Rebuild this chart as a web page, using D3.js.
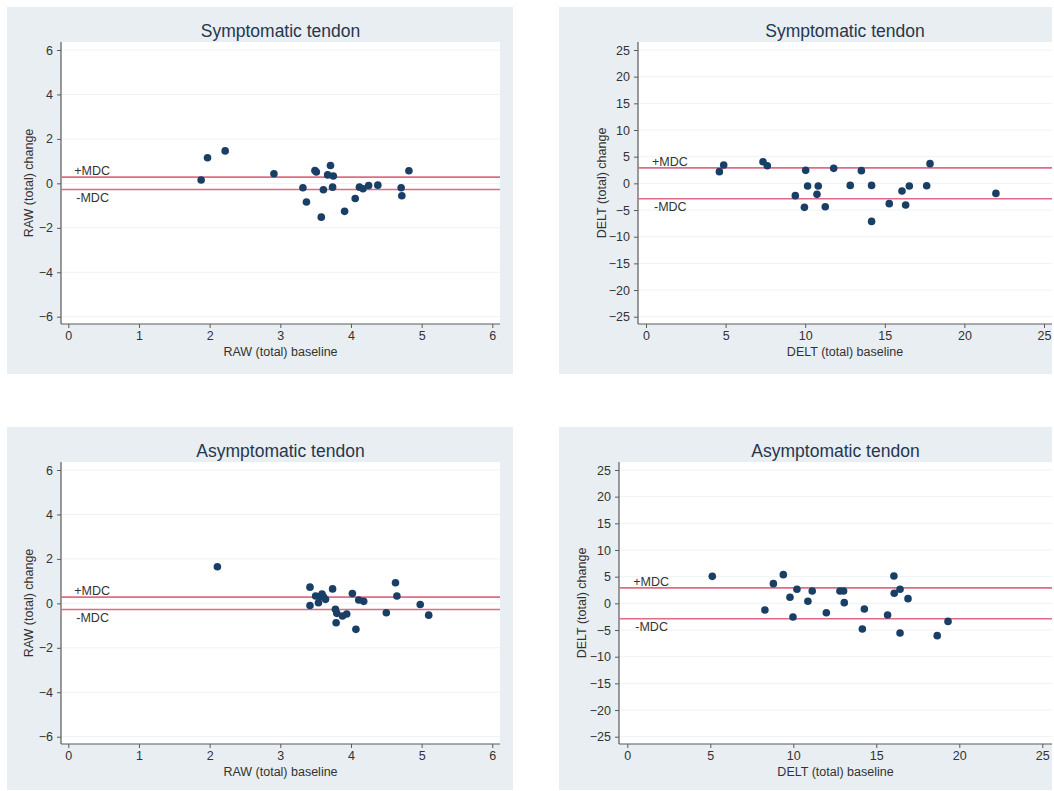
<!DOCTYPE html>
<html>
<head>
<meta charset="utf-8">
<script src="https://cdn.jsdelivr.net/npm/d3@7"></script>
<style>
  body { margin: 0; background: #ffffff; }
  svg { display: block; font-family: "Liberation Sans", Arial, sans-serif; }
</style>
</head>
<body>
<div id="chart"></div>
<script>
// RAW, symptomatic tendon
const rawSympBase = [1.88, 1.97, 2.22, 2.91, 3.32, 3.37, 3.49, 3.51, 3.58, 3.61, 3.67, 3.71, 3.75, 3.74, 3.91, 4.06, 4.12, 4.17, 4.25, 4.38, 4.71, 4.72, 4.82];
const rawSympChange = [0.15, 1.15, 1.46, 0.43, -0.2, -0.84, 0.58, 0.51, -1.52, -0.29, 0.38, 0.8, 0.33, -0.17, -1.26, -0.68, -0.17, -0.24, -0.1, -0.08, -0.2, -0.56, 0.57];

// DELT, symptomatic tendon
const deltSympBase = [4.61, 4.88, 7.35, 7.62, 10.03, 9.38, 9.95, 10.15, 10.82, 10.74, 11.26, 11.79, 12.83, 13.53, 14.17, 14.17, 15.28, 16.08, 16.31, 16.54, 17.63, 17.84, 21.98];
const deltSympChange = [2.19, 3.44, 4.06, 3.31, 2.44, -2.31, -4.5, -0.5, -0.5, -2.06, -4.38, 2.81, -0.38, 2.38, -0.38, -7.13, -3.81, -1.44, -4.06, -0.5, -0.44, 3.69, -1.88];

// RAW, asymptomatic tendon
const rawAsympBase = [2.11, 3.42, 3.42, 3.5, 3.54, 3.56, 3.59, 3.61, 3.64, 3.74, 3.78, 3.8, 3.79, 3.88, 3.94, 4.02, 4.07, 4.11, 4.18, 4.5, 4.63, 4.65, 4.98, 5.1];
const rawAsympChange = [1.65, 0.73, -0.1, 0.33, 0.03, 0.3, 0.42, 0.3, 0.18, 0.65, -0.27, -0.45, -0.87, -0.57, -0.48, 0.44, -1.17, 0.15, 0.09, -0.42, 0.93, 0.33, -0.05, -0.53];

// DELT, asymptomatic tendon
const deltAsympBase = [5.12, 8.29, 8.8, 9.4, 9.8, 9.98, 10.22, 10.88, 11.14, 11.99, 12.81, 13.03, 13.07, 14.16, 14.28, 15.68, 16.06, 16.08, 16.43, 16.43, 16.91, 18.67, 19.32];
const deltAsympChange = [5.06, -1.25, 3.69, 5.38, 1.13, -2.56, 2.63, 0.38, 2.31, -1.75, 2.31, 2.31, 0.13, -4.81, -1.06, -2.19, 5.13, 1.88, 2.63, -5.56, 0.88, -6.06, -3.38];

// minimal detectable change
const rawMDC = 0.28;
const deltMDC = 2.9;

const rawXTicks = [0, 1, 2, 3, 4, 5, 6];
const rawYTicks = [-6, -4, -2, 0, 2, 4, 6];
const deltXTicks = [0, 5, 10, 15, 20, 25];
const deltYTicks = [-25, -20, -15, -10, -5, 0, 5, 10, 15, 20, 25];

const panels = [
  {title: "Symptomatic tendon", xLabel: "RAW (total) baseline", yLabel: "RAW (total) change",
   xs: rawSympBase, ys: rawSympChange, mdc: rawMDC, xTicks: rawXTicks, yTicks: rawYTicks,
   box: [7, 7, 513, 374], plot: [61, 42, 500, 324], xr: [68.3, 492.3], yr: [316.7, 50], yTitleX: 29},
  {title: "Symptomatic tendon", xLabel: "DELT (total) baseline", yLabel: "DELT (total) change",
   xs: deltSympBase, ys: deltSympChange, mdc: deltMDC, xTicks: deltXTicks, yTicks: deltYTicks,
   box: [559, 7, 1052, 374], plot: [638, 42, 1052, 324], xr: [646, 1044], yr: [316.7, 50], yTitleX: 602},
  {title: "Asymptomatic tendon", xLabel: "RAW (total) baseline", yLabel: "RAW (total) change",
   xs: rawAsympBase, ys: rawAsympChange, mdc: rawMDC, xTicks: rawXTicks, yTicks: rawYTicks,
   box: [7, 427, 513, 790], plot: [61, 462, 500, 744], xr: [68.3, 492.3], yr: [736.7, 470], yTitleX: 29},
  {title: "Asymptomatic tendon", xLabel: "DELT (total) baseline", yLabel: "DELT (total) change",
   xs: deltAsympBase, ys: deltAsympChange, mdc: deltMDC, xTicks: deltXTicks, yTicks: deltYTicks,
   box: [559, 427, 1052, 790], plot: [619, 462, 1052, 744], xr: [627.3, 1042.3], yr: [736.7, 470], yTitleX: 582}
];

const svg = d3.select("#chart").append("svg")
  .attr("width", 1054)
  .attr("height", 791);

svg.append("rect")
  .attr("width", 1054)
  .attr("height", 791)
  .attr("fill", "#ffffff");

panels.forEach(p => drawPanel(p));

function drawPanel(p) {
  const [bx0, by0, bx1, by1] = p.box;
  const [px0, py0, px1, py1] = p.plot;
  const g = svg.append("g");

  // outer graph region
  g.append("rect")
    .attr("x", bx0).attr("y", by0)
    .attr("width", bx1 - bx0).attr("height", by1 - by0)
    .attr("fill", "#e8eef2");

  // plot region
  g.append("rect")
    .attr("x", px0).attr("y", py0)
    .attr("width", px1 - px0).attr("height", py1 - py0)
    .attr("fill", "#ffffff");

  const x = d3.scaleLinear().domain([p.xTicks[0], p.xTicks[p.xTicks.length - 1]]).range(p.xr);
  const y = d3.scaleLinear().domain([p.yTicks[0], p.yTicks[p.yTicks.length - 1]]).range(p.yr);

  // light horizontal grid
  g.selectAll(".grid")
    .data(p.yTicks)
    .enter().append("line")
    .attr("x1", px0).attr("x2", px1)
    .attr("y1", d => y(d)).attr("y2", d => y(d))
    .attr("stroke", "#eef2f5")
    .attr("stroke-width", 1);

  // y axis
  const yAxis = g.append("g")
    .attr("transform", `translate(${px0},0)`)
    .call(d3.axisLeft(y).tickValues(p.yTicks).tickFormat(d3.format("d"))
      .tickSize(4).tickPadding(4).tickSizeOuter(0));
  yAxis.select(".domain").attr("d", `M0,${py0}V${py1}`);

  // x axis
  const xAxis = g.append("g")
    .attr("transform", `translate(0,${py1})`)
    .call(d3.axisBottom(x).tickValues(p.xTicks).tickFormat(d3.format("d"))
      .tickSize(4).tickPadding(3).tickSizeOuter(0));
  xAxis.select(".domain").attr("d", `M${px0},0H${px1}`);

  [yAxis, xAxis].forEach(a => {
    a.select(".domain").attr("stroke", "#5a5a5a").attr("stroke-width", 1.2);
    a.selectAll(".tick line").attr("stroke", "#5a5a5a");
    a.selectAll(".tick text")
      .attr("fill", "#333333")
      .style("font-size", "12.5px")
      .style("font-family", "'Liberation Sans', Arial, sans-serif");
  });

  // MDC lines
  const mdcVals = [p.mdc, -p.mdc];
  g.selectAll(".mdc")
    .data(mdcVals)
    .enter().append("line")
    .attr("x1", px0).attr("x2", px1)
    .attr("y1", d => y(d)).attr("y2", d => y(d))
    .attr("stroke", "#e06b86")
    .attr("stroke-width", 1.6);

  g.append("text")
    .attr("x", x(0) + 6)
    .attr("y", y(p.mdc) - 2)
    .attr("fill", "#333333")
    .style("font-size", "12.5px")
    .text("+MDC");

  g.append("text")
    .attr("x", x(0) + 8)
    .attr("y", y(-p.mdc) + 12)
    .attr("fill", "#333333")
    .style("font-size", "12.5px")
    .text("-MDC");

  // points
  g.selectAll(".pt")
    .data(p.xs.map((v, i) => [v, p.ys[i]]))
    .enter().append("circle")
    .attr("cx", d => x(d[0]))
    .attr("cy", d => y(d[1]))
    .attr("r", 3.8)
    .attr("fill", "#1a3f66");

  // title
  g.append("text")
    .attr("x", (px0 + px1) / 2)
    .attr("y", py0 - 5)
    .attr("text-anchor", "middle")
    .attr("fill", "#27364d")
    .style("font-size", "17.5px")
    .text(p.title);

  // axis titles
  g.append("text")
    .attr("x", (px0 + px1) / 2)
    .attr("y", py1 + 32)
    .attr("text-anchor", "middle")
    .attr("fill", "#333333")
    .style("font-size", "12.5px")
    .text(p.xLabel);

  g.append("text")
    .attr("transform", `translate(${p.yTitleX + 4},${(py0 + py1) / 2}) rotate(-90)`)
    .attr("text-anchor", "middle")
    .attr("fill", "#333333")
    .style("font-size", "12.5px")
    .text(p.yLabel);
}
</script>
</body>
</html>
